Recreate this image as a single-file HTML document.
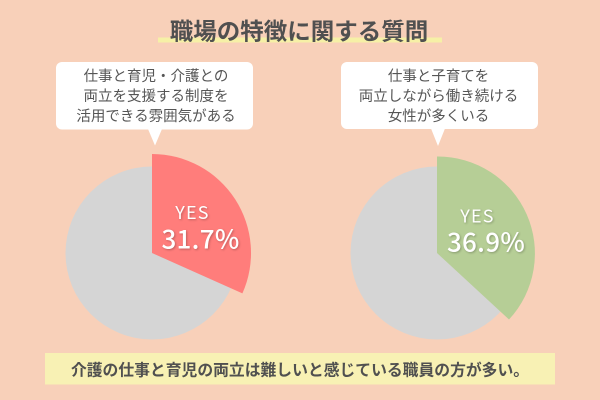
<!DOCTYPE html>
<html>
<head>
<meta charset="utf-8">
<style>
  html,body{margin:0;padding:0;background:#f8d0b9;}
  svg{display:block;}
  .cj{font-family:"Noto Sans CJK JP","Liberation Sans",sans-serif;}
</style>
</head>
<body>
<svg width="600" height="400" viewBox="0 0 600 400" xmlns="http://www.w3.org/2000/svg">
  <rect x="0" y="0" width="600" height="400" fill="#f8d0b9"/>

  <!-- Title -->
  <rect x="158" y="37.5" width="284" height="5" fill="#f6f0a6"/>
  <text x="299" y="39.5" text-anchor="middle" class="cj" font-size="23.5" font-weight="bold" fill="#505050">職場の特徴に関する質問</text>

  <!-- Left callout -->
  <rect x="56" y="62" width="197" height="67.5" rx="6" ry="6" fill="#ffffff"/>
  <polygon points="148,129 162,129 155,145.5" fill="#ffffff"/>
  <g class="cj" font-size="14.5" fill="#555555" text-anchor="middle">
    <text x="156" y="81">仕事と育児・介護との</text>
    <text x="156" y="101">両立を支援する制度を</text>
    <text x="156" y="121">活用できる雰囲気がある</text>
  </g>

  <!-- Right callout -->
  <rect x="341" y="62" width="197" height="67" rx="6" ry="6" fill="#ffffff"/>
  <polygon points="431,128.5 445,128.5 438,146" fill="#ffffff"/>
  <g class="cj" font-size="14.5" fill="#555555" text-anchor="middle">
    <text x="438.5" y="81">仕事と子育てを</text>
    <text x="438.5" y="101">両立しながら働き続ける</text>
    <text x="438.5" y="121">女性が多くいる</text>
  </g>

  <!-- Left pie -->
  <circle cx="152" cy="253" r="86.5" fill="#d5d5d5"/>
  <path d="M152,253 L152,154 A99,99 0 0 1 242.4,293.4 Z" fill="#ff7d7b"/>
  <g class="cj" fill="#ffffff" text-anchor="middle" style="text-shadow:1px 1px 2px rgba(0,0,0,0.25)">
    <text x="192.5" y="219" font-size="18" letter-spacing="1.2">YES</text>
    <text x="200.5" y="248.5" font-size="26" font-weight="500" letter-spacing="0.3">31.7%</text>
  </g>

  <!-- Right pie -->
  <circle cx="437" cy="253" r="86.5" fill="#d5d5d5"/>
  <path d="M437,253 L437,156.5 A97,97 0 0 1 509,319.5 Z" fill="#b6ce96"/>
  <g class="cj" fill="#ffffff" text-anchor="middle" style="text-shadow:1px 1px 2px rgba(0,0,0,0.25)">
    <text x="477.5" y="222.5" font-size="18" letter-spacing="1.2">YES</text>
    <text x="486" y="251.5" font-size="26" font-weight="500" letter-spacing="0.3">36.9%</text>
  </g>

  <!-- Bottom box -->
  <rect x="45" y="353" width="510" height="31.5" fill="#f8f1b4"/>
  <text x="300" y="375.5" text-anchor="middle" class="cj" font-size="15.8" font-weight="bold" fill="#505050">介護の仕事と育児の両立は難しいと感じている職員の方が多い。</text>
</svg>
</body>
</html>
